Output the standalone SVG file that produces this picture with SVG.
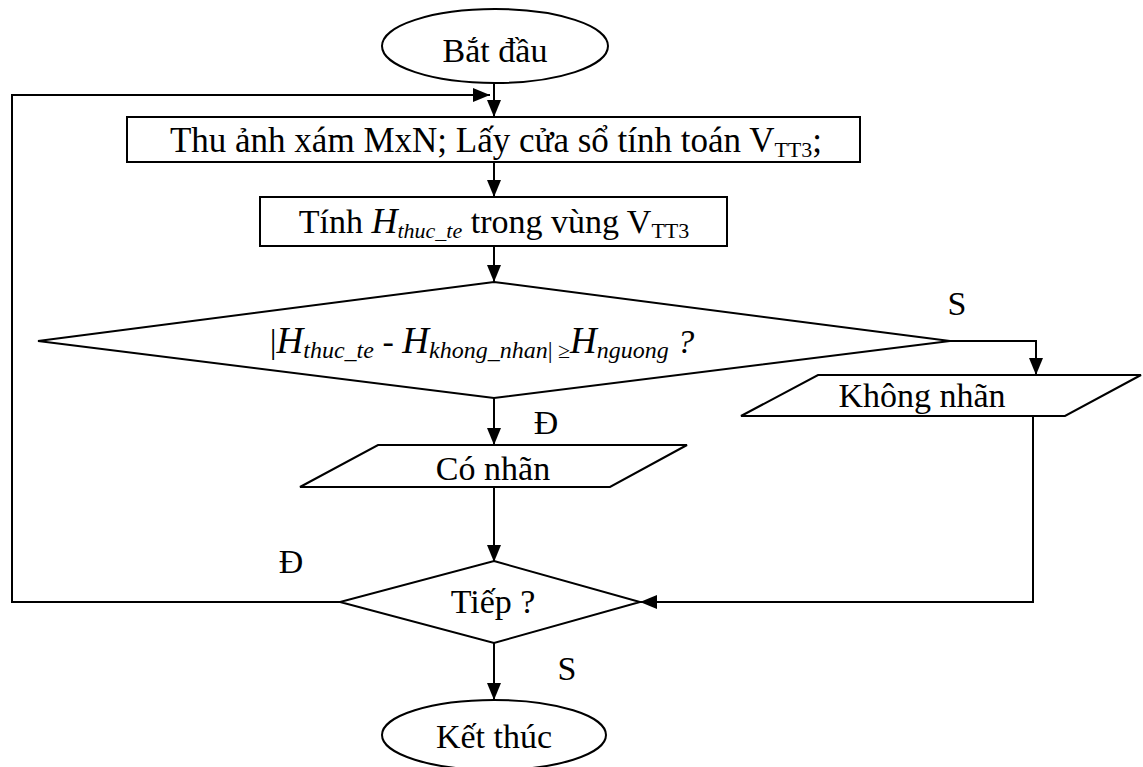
<svg xmlns="http://www.w3.org/2000/svg" width="1143" height="767" viewBox="0 0 1143 767">
  <style>
    .shape { fill: #fff; stroke: #000; stroke-width: 2; }
    .conn { fill: none; stroke: #000; stroke-width: 2; }
    .t { font-family: "Liberation Serif", "Times New Roman", serif; font-size: 34px; fill: #000; }
    .i { font-style: italic; }
  </style>
  <defs>
    <marker id="arr" viewBox="0 0 17 14" refX="17" refY="7" markerWidth="17" markerHeight="14" markerUnits="userSpaceOnUse" orient="auto">
      <path d="M0,0 L17,7 L0,14 z" fill="#000"/>
    </marker>
  </defs>
  <rect width="1143" height="767" fill="#fff"/>

  <g id="connectors">
    <line class="conn" x1="494" y1="83" x2="494" y2="117" marker-end="url(#arr)"/>
    <polyline class="conn" points="340,602 12,602 12,95 490,95" marker-end="url(#arr)"/>
    <line class="conn" x1="494" y1="162" x2="494" y2="197" marker-end="url(#arr)"/>
    <line class="conn" x1="494" y1="246" x2="494" y2="282" marker-end="url(#arr)"/>
    <line class="conn" x1="494" y1="398" x2="494" y2="445" marker-end="url(#arr)"/>
    <polyline class="conn" points="950,341 1036,341 1036,375" marker-end="url(#arr)"/>
    <line class="conn" x1="494" y1="487" x2="494" y2="562" marker-end="url(#arr)"/>
    <polyline class="conn" points="1033,416 1033,602 640,602" marker-end="url(#arr)"/>
    <line class="conn" x1="494" y1="643" x2="494" y2="700" marker-end="url(#arr)"/>
  </g>

  <g id="start">
    <ellipse class="shape" cx="495" cy="46" rx="113" ry="37"/>
    <text class="t" x="495" y="62" text-anchor="middle">Bắt đầu</text>
  </g>

  <g id="acquire">
    <rect class="shape" x="127" y="117" width="733" height="45"/>
    <text class="t" x="496" y="152" text-anchor="middle" style="font-size:35px">Thu ảnh xám MxN; Lấy cửa sổ tính toán V<tspan dy="5" style="font-size:22px">TT3</tspan><tspan dy="-5">;</tspan></text>
  </g>

  <g id="compute">
    <rect class="shape" x="260" y="197" width="467" height="49"/>
    <text class="t" x="494" y="233" text-anchor="middle">Tính <tspan class="i" style="font-size:36px">H</tspan><tspan class="i" dy="5" style="font-size:22px">thuc_te</tspan><tspan dy="-5"> trong vùng V</tspan><tspan dy="5" style="font-size:22px">TT3</tspan></text>
  </g>

  <g id="decision1">
    <polygon class="shape" points="494,282 950,341 494,398 38,341"/>
    <text class="t" x="482" y="353" text-anchor="middle">|<tspan class="i" style="font-size:37px">H</tspan><tspan class="i" dy="5" style="font-size:24px">thuc_te</tspan><tspan dy="-5"> - </tspan><tspan class="i" style="font-size:37px">H</tspan><tspan class="i" dy="5" style="font-size:24px">khong_nhan</tspan><tspan style="font-size:24px">|</tspan><tspan style="font-size:22px"> ≥</tspan><tspan class="i" dy="-5" style="font-size:37px">H</tspan><tspan class="i" dy="5" style="font-size:24px">nguong</tspan><tspan class="i" dy="-5"> ?</tspan></text>
  </g>

  <g id="label-s1">
    <text class="t" x="957" y="315" text-anchor="middle">S</text>
  </g>

  <g id="no-label">
    <polygon class="shape" points="818,375 1141,375 1065,416 741,416"/>
    <text class="t" x="922" y="407" text-anchor="middle">Không nhãn</text>
  </g>

  <g id="label-d1">
    <text class="t" x="546" y="434" text-anchor="middle">Đ</text>
  </g>

  <g id="has-label">
    <polygon class="shape" points="378,445 687,445 610,487 300,487"/>
    <text class="t" x="493" y="480" text-anchor="middle">Có nhãn</text>
  </g>

  <g id="decision2">
    <polygon class="shape" points="494,561 640,602 494,643 340,602"/>
    <text class="t" x="493" y="613" text-anchor="middle">Tiếp ?</text>
  </g>

  <g id="label-d2">
    <text class="t" x="291" y="573" text-anchor="middle">Đ</text>
  </g>

  <g id="label-s2">
    <text class="t" x="567" y="680" text-anchor="middle">S</text>
  </g>

  <g id="end">
    <ellipse class="shape" cx="494" cy="735" rx="112" ry="35"/>
    <text class="t" x="494" y="748" text-anchor="middle">Kết thúc</text>
  </g>
</svg>
